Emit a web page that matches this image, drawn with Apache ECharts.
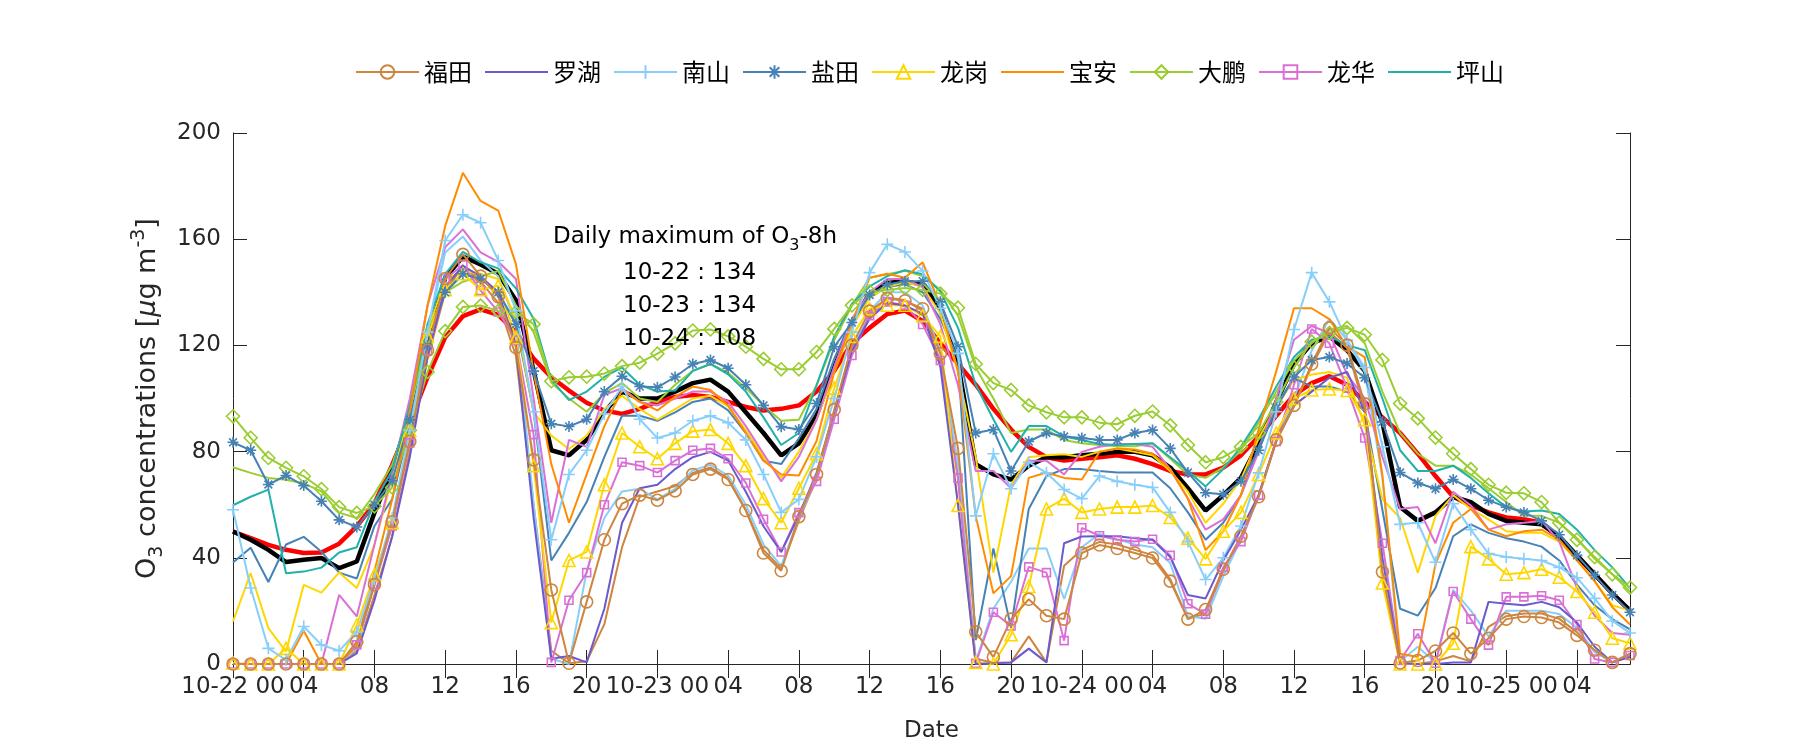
<!DOCTYPE html>
<html><head><meta charset="utf-8">
<script src="https://cdn.jsdelivr.net/npm/echarts/dist/echarts.min.js"></script>
<style>html,body{margin:0;padding:0;background:#fff}#c{width:1800px;height:750px}</style>
</head><body><div id="c"></div>
<script>
// ---- time axis ----
const days = ['10-22', '10-23', '10-24', '10-25'];
const hoursPerDay = 24;
const nPoints = 80;
const categories = [];
for (let d = 0; d < days.length; d++) for (let h = 0; h < hoursPerDay; h++) {
  if (categories.length < nPoints) categories.push(days[d] + ' ' + String(h).padStart(2, '0'));
}
const yTicks = [0, 40, 80, 120, 160, 200];

// ---- legend stations (values in μg/m3) ----
const futian = [0,0,0,0,0,0,0,8.4,29.9,53.6,83.8,118.2,145.2,154.3,146.1,138.3,119.2,
76.9,27.9,0.3,23.4,46.8,60.4,63.6,61.7,65.2,71.4,73.4,69.5,57.8,41.8,35.1,
55.5,71.4,95.8,120.1,132.9,137.7,136.8,133.8,116.9,81.2,12.1,2.6,16.9,24.4,18.2,16.9,
41.8,44.8,43.5,41.8,39.9,31.2,16.9,20.5,35.7,48.1,63.0,84.4,97.4,113.0,126.6,120.1,
98,34.7,0.4,1.3,4.9,11.7,3.9,9.7,16.9,17.9,17.5,15.6,10.8,5.2,0.6,3.9];
const luohu = [0,0,0,0,0,0,0,4,24,48,78,116,142,150,146,140,120,
55,2,3,0.6,20.8,53.2,66.2,67.5,73.4,77.9,79.9,76.6,64.9,51.9,42.2,
56,72,95,118,130,136,135,132,112,60,0,0.3,0.6,5.8,0.6,45.5,
48,48.1,48.1,47.4,46.8,40.3,26.0,24.7,39.0,50.6,63.6,84.4,97.4,102.6,107.8,110,
95,40,0.3,0,0,0.6,0.6,23.4,22.7,22.1,23.4,21.4,15.6,6.5,0.6,2.6];
const nanshan = [58.1,28.6,5.9,1.5,14.1,7.2,5.0,12,32,55,88,125,159.5,169.2,166.2,152,133,
95,46.8,71.4,80.5,94.2,104.5,92.2,85.1,87.0,91.6,93.5,90.9,84.4,71.4,57.1,
62,78,100,125,147.4,158.1,155.2,148,134,117,55.8,79.2,66,76,72,65.7,
62.3,70.8,68.8,67.5,66.5,57.1,46.1,31.8,40,52,72,95,126,147.4,136.4,122,
111.7,81.8,52.6,53.2,38.3,60.4,50.6,41.6,40.3,39.6,39.0,36.4,32.5,24.7,16.2,11.7];
const yantian = [83.5,80.5,67.6,71.0,67.2,61.3,54.3,51.6,60,69,92,120,140,147,145,140,128,
110.3,90.5,89.5,92.2,102.6,108.4,104.5,104.2,108.1,113.0,114.5,111.4,105.2,97.4,89.4,
88.3,98.1,119.5,128.6,139,142.9,144.2,144.2,136.4,119.5,87.0,88.3,72.7,83.8,87.0,85.7,
85.1,84.4,84.4,87.0,88.1,81.2,72.1,64.5,63.9,68.8,80.5,96.4,108.1,114.5,115.6,113.2,
107.8,91.2,72.1,68.2,66.0,69.5,66.0,61.7,59.1,57.1,53.9,48.7,40.9,33.4,26.0,19.5];
const longgang = [0.4,0,0,5.9,0,0,0,14.7,33.6,53.2,88,123.4,141,147,141,142.5,123,
74.7,15.6,39.0,42.2,67.5,87.0,81.8,77.3,83.1,87.7,88.3,83.1,74.7,62.3,53.2,
66.2,79.2,103.9,123.4,133.8,135.1,135.1,131.2,123.4,59.7,0.6,0,11.0,29.2,58.4,62.3,
57.1,58.4,59.1,59.1,59.7,55.2,47.4,39.6,50.0,57.1,71.4,87.0,100.0,103.2,103.6,103,
92,30.5,0,0,0,7.8,44.2,39.6,33.8,34.4,35.7,32.7,27.3,19.5,9.7,7.8];
const baoan = [0,0,0,0,12.5,0,0,7,35,62,95,135,165,185,174.4,170.8,150.6,
110,75.3,53.2,71.4,89.6,103.2,98.7,95.5,100.6,104.5,103.2,97.4,87.0,76.6,71.4,
71,84,110,128.6,145.5,147.0,145.5,151.3,135.1,110.4,55.8,26.6,33.1,70.1,72.1,70.1,
69.5,79.9,81.2,80.8,79.2,73.4,62.3,42.9,50.0,63.6,88.3,110.4,134.0,134.0,129.9,119.5,
115.6,71,3.9,2.6,37.7,53.2,58.4,50.6,48.1,50.0,50.6,46.8,39.0,31.2,21.4,14.9];
const dapeng = [93.3,85.2,77.6,73.9,70.7,65.9,59.1,56.9,59.4,66.5,88,110,125.4,134.5,135,133,132.5,
128,106.5,108,108.2,109.4,112.2,113.5,116.9,120.8,125.6,126.0,123.4,119.5,114.9,111.0,
111.0,117.5,126.2,135.1,140.3,140.9,141.6,140.9,139.5,134.2,113.0,105.8,103.2,97.4,94.8,92.9,
92.9,90.9,90.3,93.5,95.1,89.9,82.5,76.0,77.9,81.8,87.0,98.7,111.7,121.4,124.7,126.6,
124.0,114.5,98.1,92.5,85.3,79.2,73.4,67.5,64.5,64.3,61.0,53.2,46.8,40.3,33.8,28.8];
const longhua = [0,0,0,0,0,0,0,7.2,30,52,83.3,118,145,150.3,140.7,132.6,122,
86.4,0.6,24.0,34.4,60.0,76.0,74.7,72.1,76.6,80.5,81.2,77.3,68.2,54.5,42.2,
57,68.8,92.2,116.2,131.2,136.4,135.1,127.9,114.3,70,0.3,19.5,14.3,36.6,34.4,8.8,
51.3,48.3,46.8,46.1,47.0,40.9,22.7,18.8,36.4,46.1,63.6,83.8,105.2,126.2,120.8,103.9,
85.1,45.5,1.3,11.4,0.3,27.3,16.9,7.1,25.3,25.3,25.7,24.0,14.9,1.9,0.6,3.2];
const pingshan = [59.8,63,65.7,34.2,34.8,36.3,42.0,44.0,61,73,97,128,146.8,155.2,151.3,149,141.5,
130,107,99.4,102.6,108.1,111.7,105.2,102.6,103,110.4,113.0,109.1,102.6,92.9,82.5,
87,105,123.4,135.7,142.2,146.1,148.3,146.8,140.3,126.6,105.2,92.2,79.9,89.6,89.6,85.7,
84.4,82.9,82.5,82.9,83.1,77.9,72.7,66.9,73.4,81.8,92.2,104.5,115.6,122.1,123.4,120.1,
118.2,100,80.5,72.7,72.7,74.7,70.1,64.3,59.1,57.4,57.8,56.5,50.6,42.9,36.4,28.6];

// ---- second stations of districts (no markers, not in legend) ----
const futian2 = [0,0,0,0,0,0,0,5,26,48,80,115,140,150,144,136,116,
60,5,0.3,1,15,44,63,65,67,72,74,70,58,43,36,
54,70,94,118,132,138,137,133,114,70,2,0.5,0.6,10.4,0.6,37,
43,46,45,43,41,32,17,19,35,48,63,84,97,112,125,119,
96,32,0,0,1,3,1,14,18,19,19,17,12,5,0.6,3];
const nanshan2 = [0,0,0,0,0,0,0,6,30,52,85,125,155,161,152,146,128,
60,2,0,35,55,65,66,62,66,73,75,71,60,45,37,
55,70,93,118,133,140,140,135,118,75,1,20.8,31,43.5,43.5,24.5,
44,49,47,45,44,38,18,17,33,47,63,84,100,118,130,122,
110,70,1,6.5,0.6,27.9,20.1,10.4,20.1,20.1,20.1,18.8,13.6,4.5,0.6,3.9];
const yantian2 = [38.2,43.8,30.9,45,47.9,42.3,34.4,32.2,52,62,90,120,140,146.8,145,140,128,
95,39.0,49.4,61,78,93.5,93.5,91.6,94.8,98.7,100,95.5,87.0,76.6,75.3,
85,96,115,130,138,142,143,140,130,115,9,43.5,13.6,58.4,70.8,73.4,
73.4,72.7,72.1,72.1,72.1,66.2,57.1,46.8,53.2,63.6,81.8,97.4,107.8,104.5,104.5,102.6,
95,58,20.8,18.2,28.6,48.1,52.6,49.4,47.4,46.1,44.2,39.0,29.9,22.1,16.9,13.0];
const longgang2 = [16.0,34.2,13.5,4.7,29.8,26.9,34.5,28.6,45,70,95,125,145,148,147,145,130,
95,86,81,86,96,101,96,92,96,100,101,97,88,78,70,
80,92,110,127,138,142,144,142,132,110,78,34.4,67.5,77.9,78.6,79,
78,80,81.2,79.9,78.6,72.7,64.9,53.2,60.4,69.5,85,97,107,109,110,107.8,
90,62,55,34.4,55.8,63.6,58.4,54.5,50.0,49.4,49.4,46.1,39,31.2,22.1,20.1];
const dapeng2 = [74.1,72,70.1,69.4,68,65,57,55,64,75,95,125,140,144,146,148,135,
125,106,100,95,102,105.8,100,98.7,105.2,110.4,113.0,109.7,103.9,97.4,91.6,
92,105,122,135,145.5,146.8,148.1,146.1,140.9,131.2,111.7,100,87.0,88.3,88.3,84.4,
83.1,82.5,82,82,83.1,77.3,71.4,70.1,74.0,80.5,90.9,102.6,114.3,120.8,126.0,127.3,
120.8,102.6,87.0,79.2,74.7,74.7,71.4,66.2,61.0,55.8,55.8,53.2,47.4,39.6,33.8,27.3];
const longhua2 = [0,0,0,0,0,0,26.0,17.9,45,72,100,135,157,163.7,155,151.5,145,
100,53.2,84.4,81.8,101.3,103.9,98.7,97.4,100,102.6,102.6,98.7,89.6,79.2,68.8,
78,92,112,130,140,145,145,142,128,105,72.7,72.7,66.2,76.6,76.6,71.4,
79.9,81.8,82.9,82.9,81.8,73.4,62.3,50.6,54.5,63.6,80,100,122.1,127.3,124.7,109.1,
100,78,58.4,59.1,45.5,64.9,59.7,50.6,52.6,53.2,53.9,46.1,28.6,18.2,11.7,11.0];

// ---- city mean (black) and smoothed mean (red) ----
const cityMean = [49.9,46.8,43.0,38.4,39.3,39.9,36.1,38.6,57,72.7,94.8,122,145.5,153.5,150.5,147,137,
110.6,80.5,78.6,84.4,94.8,102.6,100.0,100,102.6,105.8,107.1,102.6,94.8,87.0,78.6,
83.1,93.5,111.7,128.6,139.6,143.5,144.2,142.9,133.8,113,75.3,71.4,69.5,74.7,77.9,77.9,
78.6,79.2,79.9,79.9,78.6,74.0,66.2,57.8,63.6,70.1,83.1,98.7,113.0,120.8,123.4,118.2,
110.4,90.9,59.1,53.9,57.1,63.0,61.0,56.5,53.9,53.2,52.6,48.1,40.9,33.8,26.6,20.1];
const smoothMean = [49.9,47.4,44.9,43.0,41.8,42.0,45.3,51.8,60.5,75,91,108,123,131,133.6,131.5,125,
115,108,103,98.4,95.5,94.2,96.1,98.7,100.6,101.3,100.6,98.7,96.8,95.5,96.1,
97.4,102.6,110.4,120.8,126.6,131.8,133.1,129.2,120.8,113.0,105.2,96.1,88.3,81.8,77.9,76.6,
77.3,77.9,78.6,77.3,75.3,72.7,71.4,71.4,74.0,78.6,85.7,93.5,101.3,105.8,108.4,105.2,
98.7,92.9,87.0,79.2,70.8,63.0,59.7,57.1,55.2,54.5,53.2,47.4,40.3,33.8,26.6,20.1];

const dailyMaxLabels = ['10-22 : 134', '10-23 : 134', '10-24 : 108'];

// ---- styling ----
const C = {
  futian: '#CD853F', luohu: '#6A5ACD', nanshan: '#87CEFA', yantian: '#4682B4',
  longgang: '#FFD700', baoan: '#FF8C00', dapeng: '#9ACD32', longhua: '#DA70D6', pingshan: '#20B2AA'
};
const PLUS = 'path://M5,0L5,10M0,5L10,5';
const STAR = 'path://M5,0L5,10M0,5L10,5M1.46,1.46L8.54,8.54M1.46,8.54L8.54,1.46';
const LATIN = 'DejaVu Sans';
const AX = '#262626';

function line(name, data, color, symbol, size, width) {
  const hasSym = !!symbol;
  return {
    type: 'line', name, data,
    symbol: hasSym ? symbol : 'none',
    symbolSize: size || 10,
    showAllSymbol: true,
    lineStyle: { color, width: width || 2 },
    itemStyle: { color: 'rgba(0,0,0,0)', borderColor: hasSym ? color : 'rgba(0,0,0,0)', borderWidth: hasSym ? 1.6 : 0 },
    emphasis: { disabled: true },
    animation: false
  };
}

const series = [
  line('均值平滑', smoothMean, '#FF0000', null, 0, 4.5),
  line('均值', cityMean, '#000000', null, 0, 4.5),
  line('福田-2', futian2, C.futian),
  line('南山-2', nanshan2, C.nanshan),
  line('盐田-2', yantian2, C.yantian),
  line('龙岗-2', longgang2, C.longgang),
  line('大鹏-2', dapeng2, C.dapeng),
  line('龙华-2', longhua2, C.longhua),
  line('坪山', pingshan, C.pingshan),
  line('龙华', longhua, C.longhua, 'rect', 8),
  line('大鹏', dapeng, C.dapeng, 'diamond', 13),
  line('宝安', baoan, C.baoan),
  line('龙岗', longgang, C.longgang, 'triangle', 12),
  line('盐田', yantian, C.yantian, STAR, 11),
  line('南山', nanshan, C.nanshan, PLUS, 12),
  line('罗湖', luohu, C.luohu),
  line('福田', futian, C.futian, 'circle', 12)
];

const tickFmt = (v) => {
  const parts = v.split(' ');
  return parts[1] === '00' ? v : parts[1];
};

const axisCommon = {
  axisLine: { show: true, lineStyle: { color: AX, width: 1 } },
  splitLine: { show: false }
};

const option = {
  backgroundColor: '#ffffff',
  animation: false,
  grid: { left: 233, right: 170, top: 133, bottom: 86 },
  legend: {
    data: ['福田', '罗湖', '南山', '盐田', '龙岗', '宝安', '大鹏', '龙华', '坪山'],
    left: 350, top: 55,
    itemWidth: 63, itemHeight: 17, itemGap: 12,
    textStyle: { fontFamily: 'Noto Sans CJK SC', fontSize: 24, color: '#000' },
    selectedMode: false
  },
  xAxis: [
    Object.assign({
      type: 'category', data: categories, boundaryGap: false, position: 'bottom',
      axisTick: { show: true, inside: true, length: 14, interval: 3, lineStyle: { color: AX } },
      axisLabel: { interval: 3, formatter: tickFmt, fontFamily: LATIN, fontSize: 23, color: AX, margin: 12 },
      name: 'Date', nameLocation: 'middle', nameGap: 56,
      nameTextStyle: { fontFamily: LATIN, fontSize: 23, color: AX }
    }, axisCommon),
    Object.assign({
      type: 'category', data: categories, boundaryGap: false, position: 'top',
      axisTick: { show: true, inside: true, length: 14, interval: 3, lineStyle: { color: AX } },
      axisLabel: { show: false }
    }, axisCommon)
  ],
  yAxis: [
    Object.assign({
      type: 'value', min: yTicks[0], max: yTicks[yTicks.length - 1], interval: 40, position: 'left',
      axisTick: { show: true, inside: true, length: 14, lineStyle: { color: AX } },
      axisLabel: { fontFamily: LATIN, fontSize: 23, color: AX, margin: 12 },
      name: '{n|O}{sb|3}{n| concentrations [}{it|μ}{n|g m}{sp|-3}{n|]}',
      nameLocation: 'middle', nameGap: 60, nameRotate: 90,
      nameTextStyle: {
        color: AX, fontFamily: LATIN, fontSize: 27,
        rich: {
          n: { fontFamily: LATIN, fontSize: 27, color: AX, lineHeight: 37 },
          it: { fontFamily: LATIN, fontSize: 27, color: AX, fontStyle: 'italic', lineHeight: 37 },
          sb: { fontFamily: LATIN, fontSize: 19, color: AX, lineHeight: 19, verticalAlign: 'bottom' },
          sp: { fontFamily: LATIN, fontSize: 19, color: AX, lineHeight: 19, verticalAlign: 'top' }
        }
      }
    }, axisCommon),
    Object.assign({
      type: 'value', min: yTicks[0], max: yTicks[yTicks.length - 1], interval: 40, position: 'right',
      axisTick: { show: true, inside: true, length: 14, lineStyle: { color: AX } },
      axisLabel: { show: false }
    }, axisCommon)
  ],
  series: series.map(s => Object.assign(s, { xAxisIndex: 0, yAxisIndex: 0 })),
  graphic: [
    {
      type: 'text', x: 553, y: 237, z: 100,
      style: {
        text: '{a|Daily maximum of O}{s|3}{a|-8h}', verticalAlign: 'middle',
        rich: {
          a: { fontFamily: LATIN, fontSize: 23, fill: '#000', lineHeight: 34 },
          s: { fontFamily: LATIN, fontSize: 16, fill: '#000', lineHeight: 16, verticalAlign: 'bottom' }
        }
      }
    }
  ].concat(dailyMaxLabels.map((t, i) => ({
    type: 'text', x: 623, y: 273 + i * 33, z: 100,
    style: { text: t, font: '23px "DejaVu Sans"', fill: '#000', verticalAlign: 'middle' }
  })))
};

const chart = echarts.init(document.getElementById('c'), null, { renderer: 'canvas' });
chart.setOption(option);
</script>
</body></html>
